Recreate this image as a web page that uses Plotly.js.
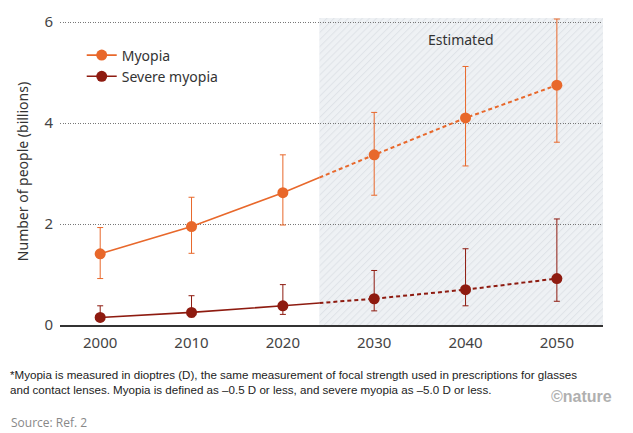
<!DOCTYPE html>
<html>
<head>
<meta charset="utf-8">
<script src="https://cdn.plot.ly/plotly-3.0.1.min.js"></script>
<style>html,body{margin:0;padding:0;background:#fff;}#chart{width:633px;height:433px;}</style>
</head>
<body>
<div id="chart"></div>
<script>
// ---- data (billions of people) ----
const years = [2000, 2010, 2020, 2030, 2040, 2050];
const myopia = [1.41, 1.95, 2.62, 3.37, 4.10, 4.75];
const myopiaUpper = [1.93, 2.53, 3.37, 4.21, 5.12, 6.06];
const myopiaLower = [0.92, 1.42, 1.98, 2.57, 3.15, 3.62];
const severe = [0.15, 0.25, 0.38, 0.52, 0.70, 0.92];
const severeUpper = [0.38, 0.58, 0.80, 1.08, 1.51, 2.10];
const severeLower = [0.08, 0.16, 0.21, 0.28, 0.38, 0.47];
const estimateStart = 2024;
const xTickLabels = ['2000', '2010', '2020', '2030', '2040', '2050'];
const yTickVals = [0, 2, 4, 6];

const ORANGE = '#e8682b';
const DARKRED = '#8e1b10';
const FONT = 'Noto Sans, Roboto, sans-serif';

function interpAt(xs, ys, x) {
  for (let i = 0; i < xs.length - 1; i++) {
    if (x >= xs[i] && x <= xs[i + 1]) {
      const t = (x - xs[i]) / (xs[i + 1] - xs[i]);
      return ys[i] + t * (ys[i + 1] - ys[i]);
    }
  }
  return null;
}

function splitSeries(vals) {
  const sx = [], sy = [], dx = [], dy = [];
  const b = interpAt(years, vals, estimateStart);
  years.forEach((y, i) => { if (y <= estimateStart) { sx.push(y); sy.push(vals[i]); } });
  sx.push(estimateStart); sy.push(b);
  dx.push(estimateStart); dy.push(b);
  years.forEach((y, i) => { if (y > estimateStart) { dx.push(y); dy.push(vals[i]); } });
  return { sx, sy, dx, dy };
}

function seriesTraces(name, vals, upper, lower, color) {
  const s = splitSeries(vals);
  return [
    { x: s.sx, y: s.sy, mode: 'lines', line: { color: color, width: 1.6 }, showlegend: false, hoverinfo: 'skip' },
    { x: s.dx, y: s.dy, mode: 'lines', line: { color: color, width: 2, dash: '4px,3px' }, showlegend: false, hoverinfo: 'skip' },
    {
      x: years, y: vals, name: name, mode: 'markers', showlegend: false,
      marker: { color: color, size: 11 },
      error_y: {
        type: 'data', symmetric: false,
        array: upper.map((u, i) => u - vals[i]),
        arrayminus: lower.map((l, i) => vals[i] - l),
        color: color, thickness: 1, width: 3
      }
    },
    // legend entry (line + marker sample)
    { x: [null], y: [null], name: name, mode: 'lines+markers', line: { color: color, width: 1.6 }, marker: { color: color, size: 11 } }
  ];
}

const traces = [
  ...seriesTraces('Myopia', myopia, myopiaUpper, myopiaLower, ORANGE),
  ...seriesTraces('Severe myopia', severe, severeUpper, severeLower, DARKRED)
];

const hatchSvg = '<svg xmlns="http://www.w3.org/2000/svg" width="283" height="307" viewBox="0 0 283 307" preserveAspectRatio="none">' +
  '<defs><pattern id="h" width="5" height="5" patternUnits="userSpaceOnUse" patternTransform="rotate(45)">' +
  '<rect width="5" height="5" fill="#eef1f4"/><line x1="0" y1="0" x2="0" y2="5" stroke="#dfe3e8" stroke-width="2"/></pattern></defs>' +
  '<rect width="283" height="307" fill="url(#h)"/></svg>';

const layout = {
  width: 633, height: 433,
  margin: { l: 60, r: 30, t: 18, b: 108 },
  paper_bgcolor: '#fff', plot_bgcolor: '#fff',
  font: { family: FONT, color: '#333', size: 15 },
  xaxis: {
    range: [1995.6, 2055.05], tickvals: years, ticktext: xTickLabels,
    showgrid: false, zeroline: false, showline: true, linecolor: '#333', linewidth: 2,
    ticks: '', ticklabelstandoff: 3, tickfont: { size: 15, color: '#444' }, fixedrange: true
  },
  yaxis: {
    range: [0, 6.08], tickvals: yTickVals, ticktext: yTickVals.map(String),
    showgrid: true, gridcolor: '#777', griddash: '1px,1.5px', gridwidth: 1,
    zeroline: false, showline: false, ticks: '', ticklabelstandoff: 6,
    tickfont: { size: 15, color: '#444' },
    title: { text: 'Number of people (billions)', font: { size: 14, color: '#333' }, standoff: 12 },
    fixedrange: true
  },
  shapes: [{
    type: 'rect', layer: 'below', xref: 'x', yref: 'y',
    x0: estimateStart, x1: 2055.05, y0: 0, y1: 6.08,
    fillcolor: '#eef1f4', line: { width: 0 }
  }],
  images: [{
    source: 'data:image/svg+xml;charset=utf-8,' + encodeURIComponent(hatchSvg),
    xref: 'x', yref: 'y', x: estimateStart, y: 6.08, sizex: 2055.05 - estimateStart, sizey: 6.08,
    sizing: 'stretch', layer: 'below', xanchor: 'left', yanchor: 'top'
  }],
  legend: {
    x: 0.04, y: 0.93, xanchor: 'left', yanchor: 'top', bgcolor: 'rgba(0,0,0,0)',
    font: { size: 14, color: '#333' }, itemwidth: 30, tracegroupgap: 0
  },
  annotations: [
    { text: 'Estimated', x: (estimateStart + 2055.05) / 2, y: 5.65, xref: 'x', yref: 'y', showarrow: false, font: { size: 14, color: '#333' } },
    { text: '*Myopia is measured in dioptres (D), the same measurement of focal strength used in prescriptions for glasses<br>and contact lenses. Myopia is defined as \u20130.5 D or less, and severe myopia as \u20135.0 D or less.',
      xref: 'paper', yref: 'paper', x: 0, y: 0, xanchor: 'left', yanchor: 'top', xshift: -52, yshift: -41,
      align: 'left', showarrow: false, font: { size: 11.6, color: '#222', family: 'Liberation Sans, Arial, sans-serif' } },
    { text: '<b>\u00a9nature</b>', xref: 'paper', yref: 'paper', x: 1, y: 0, xanchor: 'right', yanchor: 'middle', xshift: 11, yshift: -71,
      showarrow: false, font: { size: 16, color: '#b0b0b0', family: 'Liberation Sans Narrow, Arial Narrow, sans-serif' } },
    { text: 'Source: Ref. 2', xref: 'paper', yref: 'paper', x: 0, y: 0, xanchor: 'left', yanchor: 'middle', xshift: -51, yshift: -97,
      showarrow: false, font: { size: 12, color: '#888', family: 'Open Sans, sans-serif' } }
  ]
};

Plotly.newPlot('chart', traces, layout, { displayModeBar: false, staticPlot: true });
</script>
</body>
</html>
